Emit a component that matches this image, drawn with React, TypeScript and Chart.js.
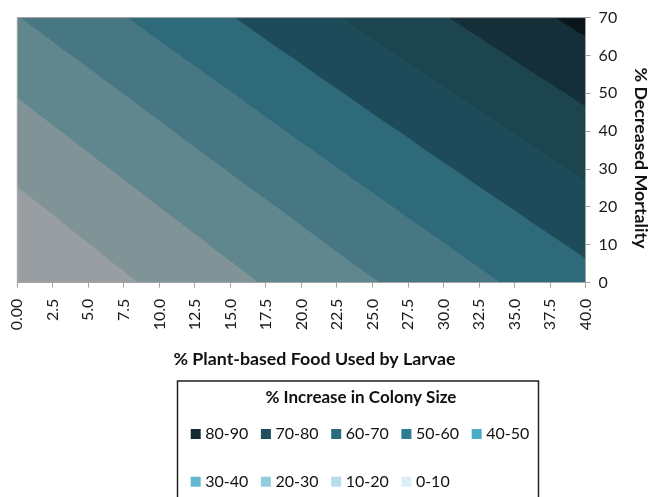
import React, { useEffect, useRef } from "react";
import { Chart, registerables } from "chart.js";

Chart.register(...registerables);

// ---- data ----
const foodPct = [0, 2.5, 5, 7.5, 10, 12.5, 15, 17.5, 20, 22.5, 25, 27.5, 30, 32.5, 35, 37.5, 40];
const foodTickLabels = ["0.00", "2.5", "5.0", "7.5", "10.0", "12.5", "15.0", "17.5", "20.0", "22.5", "25.0", "27.5", "30.0", "32.5", "35.0", "37.5", "40.0"];
const mortalityPct = [0, 10, 20, 30, 40, 50, 60, 70];
const mortalityTickLabels = ["0", "10", "20", "30", "40", "50", "60", "70"];

// % increase in colony size, one row per % decreased mortality
const increaseMort0 = [0.0, 2.9, 5.9, 8.8, 11.8, 14.7, 17.6, 20.6, 23.5, 26.5, 29.4, 32.3, 35.3, 38.2, 41.2, 44.1, 47.0];
const increaseMort10 = [3.8, 6.8, 9.8, 12.8, 15.8, 18.8, 21.8, 24.8, 27.8, 30.8, 33.8, 36.7, 39.7, 42.7, 45.7, 48.7, 51.7];
const increaseMort20 = [7.8, 10.8, 13.9, 16.9, 20.0, 23.0, 26.1, 29.1, 32.1, 35.2, 38.2, 41.3, 44.3, 47.4, 50.4, 53.5, 56.5];
const increaseMort30 = [11.9, 15.0, 18.1, 21.2, 24.3, 27.4, 30.5, 33.6, 36.7, 39.8, 42.9, 46.0, 49.1, 52.2, 55.3, 58.4, 61.5];
const increaseMort40 = [16.1, 19.3, 22.4, 25.6, 28.7, 31.9, 35.0, 38.2, 41.4, 44.5, 47.7, 50.8, 54.0, 57.1, 60.3, 63.4, 66.6];
const increaseMort50 = [20.5, 23.7, 26.9, 30.1, 33.3, 36.5, 39.7, 43.0, 46.2, 49.4, 52.6, 55.8, 59.0, 62.2, 65.4, 68.6, 71.8];
const increaseMort60 = [25.0, 28.3, 31.5, 34.8, 38.1, 41.3, 44.6, 47.9, 51.1, 54.4, 57.7, 60.9, 64.2, 67.4, 70.7, 74.0, 77.2];
const increaseMort70 = [29.7, 33.0, 36.3, 39.6, 43.0, 46.3, 49.6, 52.9, 56.2, 59.6, 62.9, 66.2, 69.5, 72.8, 76.1, 79.5, 82.8];
const increaseGrid = [increaseMort0, increaseMort10, increaseMort20, increaseMort30, increaseMort40, increaseMort50, increaseMort60, increaseMort70];

const bandLowerBounds = [0, 10, 20, 30, 40, 50, 60, 70, 80];
const bandLabels = ["0-10", "10-20", "20-30", "30-40", "40-50", "50-60", "60-70", "70-80", "80-90"];
const bandSurfaceColors = ["#989ea1", "#809397", "#60868e", "#487784", "#2e6a7a", "#1d4b59", "#1d4550", "#142f37", "#0a1519"];
const bandLegendColors = ["#dbeef4", "#b7dee8", "#93cddd", "#62b8d0", "#4bacc6", "#2e7c91", "#2a6c7f", "#1f4e5d", "#142c34"];
const legendOrder = [8, 7, 6, 5, 4, 3, 2, 1, 0];

const xTitle = "% Plant-based Food Used by Larvae";
const yTitle = "% Decreased Mortality";
const legendTitle = "% Increase in Colony Size";

const FONT = "Lato, 'Noto Sans', sans-serif";
const AXIS_GREY = "#a3a3a3";

type V = { x: number; y: number; z: number };

function clipAbove(poly: V[], t: number): V[] {
  const out: V[] = [];
  for (let i = 0; i < poly.length; i++) {
    const a = poly[i];
    const b = poly[(i + 1) % poly.length];
    const ain = a.z >= t;
    const bin = b.z >= t;
    if (ain) out.push(a);
    if (ain !== bin) {
      const f = (t - a.z) / (b.z - a.z);
      out.push({ x: a.x + f * (b.x - a.x), y: a.y + f * (b.y - a.y), z: t });
    }
  }
  return out;
}

const contourPlugin = {
  id: "contourSurface",
  beforeDraw(chart: any) {
    const { ctx, chartArea } = chart;
    const xs = chart.scales.x;
    const ys = chart.scales.y;
    ctx.save();
    ctx.beginPath();
    ctx.rect(chartArea.left, chartArea.top, chartArea.right - chartArea.left, chartArea.bottom - chartArea.top);
    ctx.clip();
    const pt = (i: number, j: number): V => ({
      x: xs.getPixelForValue(foodPct[i]),
      y: ys.getPixelForValue(mortalityPct[j]),
      z: increaseGrid[j][i],
    });
    const tris: V[][] = [];
    for (let j = 0; j < mortalityPct.length - 1; j++) {
      for (let i = 0; i < foodPct.length - 1; i++) {
        tris.push([pt(i, j), pt(i + 1, j), pt(i + 1, j + 1)]);
        tris.push([pt(i, j), pt(i + 1, j + 1), pt(i, j + 1)]);
      }
    }
    bandLowerBounds.forEach((lo, k) => {
      ctx.beginPath();
      for (const t of tris) {
        const poly = k === 0 ? t : clipAbove(t, lo);
        if (poly.length < 3) continue;
        ctx.moveTo(poly[0].x, poly[0].y);
        for (let m = 1; m < poly.length; m++) ctx.lineTo(poly[m].x, poly[m].y);
        ctx.closePath();
      }
      ctx.fillStyle = bandSurfaceColors[k];
      ctx.fill();
    });
    ctx.restore();
  },
  afterDraw(chart: any) {
    const { ctx, chartArea } = chart;
    ctx.save();
    // plot frame
    ctx.strokeStyle = AXIS_GREY;
    ctx.lineWidth = 1;
    ctx.beginPath();
    ctx.moveTo(chartArea.left, chartArea.bottom);
    ctx.lineTo(chartArea.left, chartArea.top);
    ctx.lineTo(chartArea.right, chartArea.top);
    ctx.stroke();

    ctx.fillStyle = "#111";
    ctx.textBaseline = "middle";
    ctx.textAlign = "center";
    // axis titles
    ctx.font = `bold 17.8px ${FONT}`;
    ctx.fillText(xTitle, 314.5, 359.5);
    ctx.save();
    ctx.translate(641, 158);
    ctx.rotate(Math.PI / 2);
    ctx.fillText(yTitle, 0, 0);
    ctx.restore();

    // legend box
    ctx.strokeStyle = "#222";
    ctx.lineWidth = 1.5;
    ctx.strokeRect(177.5, 381, 361, 200);
    ctx.font = `bold 17px ${FONT}`;
    ctx.fillText(legendTitle, 361, 397.5);

    ctx.font = `16px ${FONT}`;
    ctx.textAlign = "left";
    const colX = [190.7, 260.9, 331.2, 401.4, 471.7];
    const rowY = [434, 481.7];
    legendOrder.forEach((band, n) => {
      const cx = colX[n % 5];
      const cy = rowY[Math.floor(n / 5)];
      ctx.fillStyle = bandLegendColors[band];
      ctx.fillRect(cx, cy - 5, 10, 10);
      ctx.fillStyle = "#111";
      ctx.fillText(bandLabels[band], cx + 14.5, cy);
    });
    ctx.restore();
  },
};

export default function App() {
  const ref = useRef<HTMLCanvasElement | null>(null);
  useEffect(() => {
    document.body.style.margin = "0";
    if (!ref.current) return;
    const chart = new Chart(ref.current, {
      type: "scatter",
      data: {
        datasets: [
          {
            label: legendTitle,
            data: [],
            pointRadius: 0,
          },
        ],
      },
      options: {
        responsive: false,
        animation: false,
        devicePixelRatio: 1,
        layout: { padding: { left: 17.3, top: 15, right: 0, bottom: 0 } },
        plugins: { legend: { display: false }, tooltip: { enabled: false }, title: { display: false } },
        scales: {
          x: {
            type: "linear",
            position: "bottom",
            min: 0,
            max: 40,
            afterFit: (s: any) => {
              s.height = 497 - 282.7;
            },
            ticks: {
              stepSize: 2.5,
              autoSkip: false,
              maxRotation: 90,
              minRotation: 90,
              padding: 11,
              color: "#1a1a1a",
              font: { family: FONT, size: 16 },
              callback: (v: any) => {
                const idx = foodPct.indexOf(Number(v));
                return idx >= 0 ? foodTickLabels[idx] : "";
              },
            },
            grid: { display: true, drawOnChartArea: false, drawTicks: true, tickLength: 5, color: AXIS_GREY },
            border: { display: true, color: AXIS_GREY, width: 1 },
          },
          y: {
            type: "linear",
            position: "right",
            min: 0,
            max: 70,
            afterFit: (s: any) => {
              s.width = 649 - 585.6;
            },
            ticks: {
              stepSize: 10,
              padding: 8,
              color: "#1a1a1a",
              font: { family: FONT, size: 16 },
              callback: (v: any) => {
                const idx = mortalityPct.indexOf(Number(v));
                return idx >= 0 ? mortalityTickLabels[idx] : "";
              },
            },
            grid: { display: true, drawOnChartArea: false, drawTicks: true, tickLength: 5, color: AXIS_GREY },
            border: { display: true, color: AXIS_GREY, width: 1 },
          },
        },
      },
      plugins: [contourPlugin],
    } as any);
    return () => chart.destroy();
  }, []);
  return (
    <div style={{ width: 649, height: 497 }}>
      <canvas ref={ref} width={649} height={497} style={{ display: "block", width: 649, height: 497 }} />
    </div>
  );
}
